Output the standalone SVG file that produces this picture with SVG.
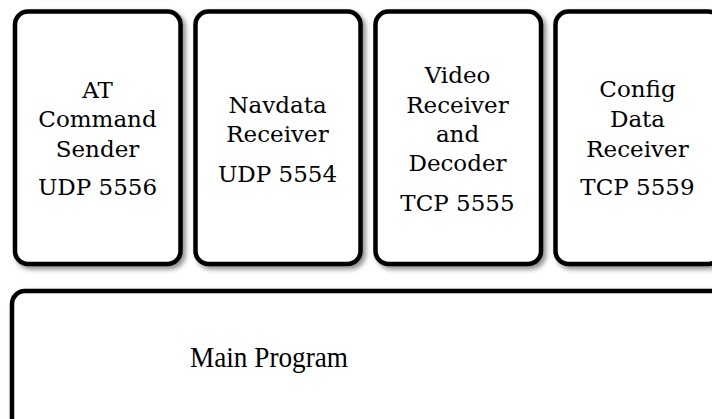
<svg xmlns="http://www.w3.org/2000/svg" width="712" height="419" viewBox="0 0 712 419">
<defs>
<filter id="sh" x="-10%" y="-10%" width="130%" height="130%">
<feDropShadow dx="3" dy="3" stdDeviation="2.5" flood-color="#000" flood-opacity="0.45"/>
</filter>
</defs>
<style>
.box{fill:#fff;stroke:#000;stroke-width:4.5;filter:url(#sh)}
.t{font-family:"DejaVu Serif","Liberation Serif",serif;font-size:23px;fill:#000;text-anchor:middle}
.m{font-family:"Liberation Serif","DejaVu Serif",serif;font-size:30px;fill:#000;text-anchor:middle}
</style>
<rect width="712" height="419" fill="#fff"/>
<g id="at-sender">
<rect class="box" x="15" y="11.5" width="165.5" height="252.5" rx="13"/>
<text class="t" x="97.5" y="98">AT</text>
<text class="t" x="97.5" y="127">Command</text>
<text class="t" x="97.5" y="157">Sender</text>
<text class="t" x="97.5" y="195">UDP 5556</text>
</g>
<g id="navdata">
<rect class="box" x="195.5" y="11.5" width="165" height="252.5" rx="13"/>
<text class="t" x="277.5" y="113">Navdata</text>
<text class="t" x="277.5" y="142">Receiver</text>
<text class="t" x="277.5" y="182">UDP 5554</text>
</g>
<g id="video">
<rect class="box" x="375.5" y="11.5" width="165.5" height="252.5" rx="13"/>
<text class="t" x="457.5" y="83">Video</text>
<text class="t" x="457.5" y="113">Receiver</text>
<text class="t" x="457.5" y="142">and</text>
<text class="t" x="457.5" y="171">Decoder</text>
<text class="t" x="457.5" y="211">TCP 5555</text>
</g>
<g id="config">
<rect class="box" x="555.5" y="11.5" width="165.5" height="252.5" rx="13"/>
<text class="t" x="637.5" y="97">Config</text>
<text class="t" x="637.5" y="127">Data</text>
<text class="t" x="637.5" y="157">Receiver</text>
<text class="t" x="637.5" y="195">TCP 5559</text>
</g>
<g id="main">
<rect class="box" x="12" y="291" width="720" height="150" rx="13"/>
<text class="m" x="269" y="367" textLength="158" lengthAdjust="spacingAndGlyphs">Main Program</text>
</g>
<g id="connectors"></g>
</svg>
